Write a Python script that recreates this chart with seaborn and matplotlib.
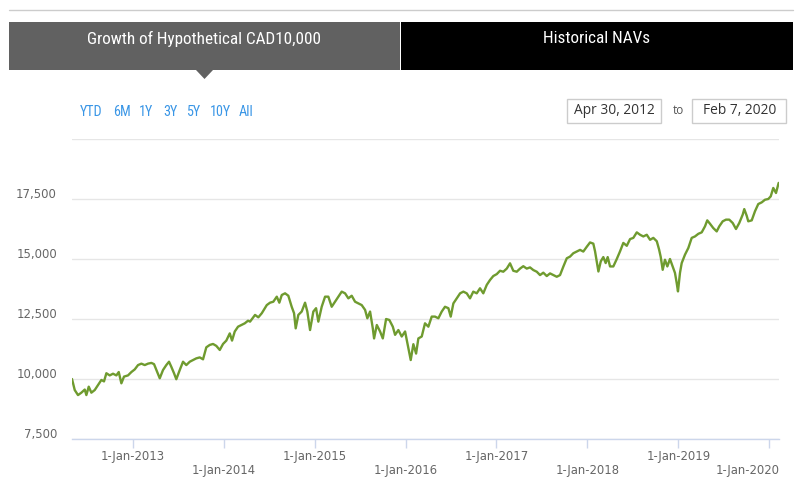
import matplotlib
matplotlib.use("Agg")
import matplotlib.pyplot as plt
from matplotlib.patches import Rectangle, Polygon
from matplotlib.transforms import ScaledTranslation
import seaborn as sns
import pandas as pd

# ---------------- data ----------------
years = [
    2012.332, 2012.362, 2012.398, 2012.435, 2012.472, 2012.490, 2012.516, 2012.545, 2012.582, 2012.618,
    2012.655, 2012.684, 2012.710, 2012.747, 2012.783, 2012.820, 2012.846, 2012.875, 2012.904, 2012.948,
    2012.985, 2013.022, 2013.058, 2013.095, 2013.132, 2013.168, 2013.205, 2013.234, 2013.260, 2013.297,
    2013.333, 2013.369, 2013.399, 2013.424, 2013.454, 2013.479, 2013.517, 2013.553, 2013.589, 2013.627,
    2013.663, 2013.699, 2013.737, 2013.773, 2013.809, 2013.847, 2013.883, 2013.919, 2013.957, 2013.993,
    2014.029, 2014.067, 2014.092, 2014.122, 2014.158, 2014.194, 2014.232, 2014.268, 2014.290, 2014.345,
    2014.381, 2014.419, 2014.474, 2014.510, 2014.546, 2014.584, 2014.612, 2014.639, 2014.675, 2014.711,
    2014.748, 2014.774, 2014.792, 2014.821, 2014.858, 2014.895, 2014.920, 2014.950, 2014.986, 2015.016,
    2015.041, 2015.078, 2015.115, 2015.151, 2015.188, 2015.225, 2015.261, 2015.298, 2015.335, 2015.371,
    2015.408, 2015.445, 2015.481, 2015.518, 2015.555, 2015.580, 2015.610, 2015.640, 2015.654, 2015.684,
    2015.720, 2015.750, 2015.786, 2015.822, 2015.860, 2015.885, 2015.921, 2015.958, 2015.995, 2016.031,
    2016.057, 2016.086, 2016.116, 2016.141, 2016.178, 2016.214, 2016.251, 2016.288, 2016.324, 2016.361,
    2016.398, 2016.434, 2016.471, 2016.497, 2016.526, 2016.563, 2016.600, 2016.636, 2016.673, 2016.709,
    2016.745, 2016.783, 2016.819, 2016.855, 2016.893, 2016.929, 2016.965, 2017.003, 2017.039, 2017.075,
    2017.113, 2017.149, 2017.185, 2017.223, 2017.259, 2017.295, 2017.333, 2017.369, 2017.405, 2017.443,
    2017.479, 2017.515, 2017.553, 2017.589, 2017.625, 2017.663, 2017.699, 2017.735, 2017.773, 2017.809,
    2017.845, 2017.883, 2017.919, 2017.955, 2017.993, 2018.029, 2018.065, 2018.084, 2018.103, 2018.121,
    2018.147, 2018.175, 2018.201, 2018.223, 2018.249, 2018.285, 2018.323, 2018.359, 2018.395, 2018.433,
    2018.469, 2018.505, 2018.543, 2018.579, 2018.615, 2018.653, 2018.689, 2018.725, 2018.763, 2018.788,
    2018.806, 2018.828, 2018.853, 2018.879, 2018.908, 2018.938, 2018.963, 2018.982, 2018.996, 2019.018,
    2019.037, 2019.073, 2019.110, 2019.147, 2019.183, 2019.220, 2019.257, 2019.293, 2019.318, 2019.348,
    2019.384, 2019.422, 2019.450, 2019.488, 2019.524, 2019.560, 2019.598, 2019.634, 2019.670, 2019.708,
    2019.725, 2019.752, 2019.769, 2019.807, 2019.843, 2019.879, 2019.917, 2019.953, 2019.989, 2020.016,
    2020.044, 2020.074, 2020.103,
]
values = [
    10000, 9540, 9330, 9430, 9560, 9330, 9680, 9430, 9540, 9750,
    9960, 9900, 10240, 10150, 10220, 10150, 10290, 9820, 10100, 10150,
    10290, 10400, 10580, 10640, 10580, 10640, 10670, 10620, 10375, 10030,
    10375, 10580, 10720, 10510, 10240, 9990, 10375, 10720, 10580, 10720,
    10790, 10860, 10900, 10820, 11320, 11420, 11460, 11380, 11210, 11460,
    11600, 11900, 11600, 11980, 12180, 12250, 12320, 12430, 12390, 12670,
    12570, 12740, 13080, 13180, 13220, 13430, 13180, 13500, 13570, 13470,
    13010, 12740, 12110, 12670, 12810, 13180, 12810, 12040, 12810, 12950,
    12390, 13010, 13430, 13430, 13010, 13220, 13430, 13640, 13570, 13360,
    13470, 13220, 13150, 13080, 12880, 12530, 12810, 12110, 11690, 12250,
    11980, 11690, 12500, 12460, 12180, 11840, 12040, 11770, 11980, 11280,
    10790, 11450, 11060, 11690, 11770, 12320, 12180, 12600, 12600, 12530,
    12810, 13010, 12950, 12600, 13150, 13360, 13570, 13640, 13570, 13360,
    13640, 13570, 13780, 13570, 13920, 14125, 14290, 14370, 14510, 14470,
    14600, 14820, 14510, 14470, 14600, 14700, 14600, 14650, 14540, 14470,
    14330, 14430, 14290, 14400, 14330, 14260, 14330, 14680, 15030, 15100,
    15240, 15310, 15380, 15310, 15510, 15690, 15640, 15320, 14900, 14480,
    14900, 15080, 14830, 15080, 14690, 14690, 15000, 15320, 15670, 15550,
    15830, 15880, 16110, 16010, 15940, 16010, 15800, 15880, 15740, 15400,
    15090, 14550, 14970, 14690, 15000, 14690, 14420, 14000, 13650, 14420,
    14830, 15180, 15460, 15880, 15940, 16050, 16110, 16360, 16610, 16470,
    16290, 16150, 16360, 16570, 16640, 16640, 16500, 16250, 16500, 16850,
    17080, 16800, 16570, 16610, 16990, 17290, 17360, 17470, 17500, 17610,
    17960, 17750, 18170,
]
y_ticks = [7500, 10000, 12500, 15000, 17500, 20000]
y_labels = ["7,500", "10,000", "12,500", "15,000", "17,500", ""]
x_ticks = [2013, 2014, 2015, 2016, 2017, 2018, 2019, 2020]
x_labels = ["1-Jan-2013", "1-Jan-2014", "1-Jan-2015", "1-Jan-2016",
            "1-Jan-2017", "1-Jan-2018", "1-Jan-2019", "1-Jan-2020"]
tabs = ["Growth of Hypothetical CAD10,000", "Historical NAVs"]
range_buttons = ["YTD", "6M", "1Y", "3Y", "5Y", "10Y", "All"]
date_from = "Apr 30, 2012"
date_to = "Feb 7, 2020"

# ---------------- figure ----------------
sns.set_style("white")
plt.rcParams["font.family"] = ["DejaVu Sans"]
W, H = 803, 480
fig = plt.figure(figsize=(W / 100, H / 100), dpi=100)

def fx(px):
    return px / W

def fy(py):
    return 1 - py / H

ax_l, ax_r, ax_t, ax_b = 72, 779, 139, 439
ax = fig.add_axes([fx(ax_l), fy(ax_b), fx(ax_r - ax_l), (ax_b - ax_t) / H])

df = pd.DataFrame({"year": years, "value": values})
sns.lineplot(data=df, x="year", y="value", ax=ax, color="#6f9b2f", linewidth=1.7)

ax.set_xlim(2012.332, 2020.107)
ax.set_ylim(7500, 20000)
ax.set_xlabel("")
ax.set_ylabel("")

ax.set_yticks(y_ticks)
ax.set_yticklabels(y_labels)
ax.yaxis.grid(True, color="#e6e6e6", linewidth=1)
ax.xaxis.grid(False)
ax.tick_params(axis="y", length=0, pad=10.8, labelsize=8.4, labelcolor="#666666")
shift = ScaledTranslation(0, 0.06, fig.dpi_scale_trans)
for lab in ax.get_yticklabels():
    lab.set_transform(lab.get_transform() + shift)

ax.set_xticks(x_ticks)
ax.set_xticklabels([lab if i % 2 == 0 else "\n" + lab for i, lab in enumerate(x_labels)],
                   linespacing=1.12)
ax.tick_params(axis="x", length=6.5, width=1, color="#ccd6eb", pad=1.5,
               labelsize=8.4, labelcolor="#666666", direction="out", bottom=True)
# last label is pushed inside the plot edge, as in the reference
last = ax.get_xticklabels()[-1]
last.set_transform(last.get_transform() + ScaledTranslation(-0.215, 0, fig.dpi_scale_trans))

for s in ["top", "left", "right"]:
    ax.spines[s].set_visible(False)
ax.spines["bottom"].set_color("#ccd6eb")
ax.spines["bottom"].set_linewidth(1)

# ---------------- header (drawn in pixel coordinates) ----------------
ov = fig.add_axes([0, 0, 1, 1], zorder=-1)
ov.set_xlim(0, W)
ov.set_ylim(H, 0)
ov.axis("off")

ov.plot([9, 793], [9.5, 9.5], color="#cccccc", linewidth=1)

cond = ["Liberation Sans Narrow", "Roboto Condensed", "DejaVu Sans"]
ov.add_patch(Rectangle((9, 22), 391, 48, facecolor="#616161", edgecolor="none"))
ov.add_patch(Rectangle((401, 22), 392, 48, facecolor="#000000", edgecolor="none"))
ov.add_patch(Polygon([[196, 70], [213, 70], [204.5, 79]], closed=True,
                     facecolor="#616161", edgecolor="none"))
ov.text(204.5, 38.5, tabs[0], color="white", fontsize=12.3, family=cond,
        ha="center", va="center")
ov.text(597, 38.5, tabs[1], color="white", fontsize=12.3, family=cond,
        ha="center", va="center")

btn_x = [91.5, 122.5, 146.5, 170, 193.5, 220.5, 246.5]
for bx, b in zip(btn_x, range_buttons):
    ov.text(bx, 111.5, b, color="#3a96e6", fontsize=10.2, family=cond,
            ha="center", va="center")

ov.add_patch(Rectangle((567.5, 98.5), 94, 24, facecolor="white", edgecolor="#cccccc", linewidth=1))
ov.add_patch(Rectangle((692.5, 98.5), 94, 24, facecolor="white", edgecolor="#cccccc", linewidth=1))
ov.text(614.5, 111, date_from, color="#333333", fontsize=9.9, family=["Open Sans", "DejaVu Sans"],
        ha="center", va="center")
ov.text(739.5, 111, date_to, color="#333333", fontsize=9.9, family=["Open Sans", "DejaVu Sans"],
        ha="center", va="center")
ov.text(678, 110.5, "to", color="#555555", fontsize=8.5, family=["Open Sans", "DejaVu Sans"],
        ha="center", va="center")

fig.savefig("out.png", dpi=100, facecolor="white")
